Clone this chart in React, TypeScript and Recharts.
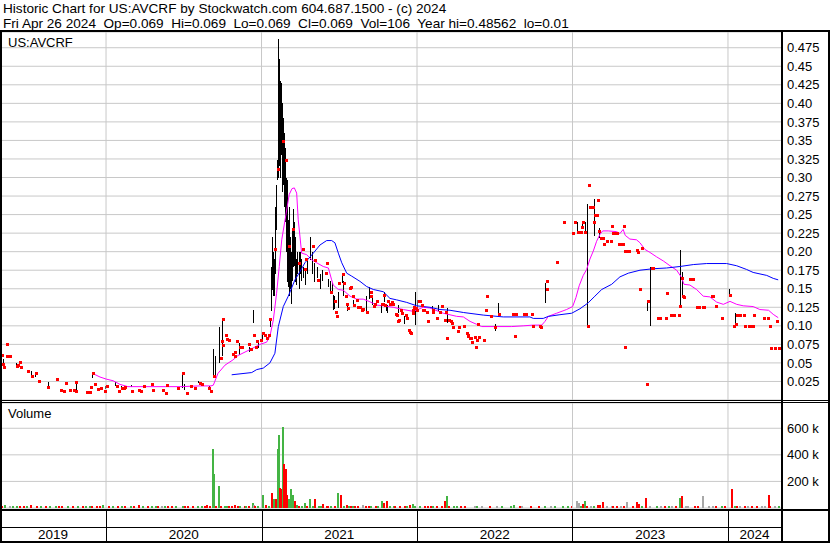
import { ComposedChart, Bar, Line, Scatter, XAxis, YAxis, CartesianGrid, ReferenceLine, Cell } from "recharts";

const FONT = '"Liberation Sans", Arial, sans-serif';
const T0 = 2019.318;
const T1 = 2024.341;

const yearBounds = [2020, 2021, 2022, 2023, 2024];
const yearLabels = ["2019", "2020", "2021", "2022", "2023", "2024"];
const priceTickLabels = [
  "0.025", "0.05", "0.075", "0.10", "0.125", "0.15", "0.175", "0.20", "0.225", "0.25",
  "0.275", "0.30", "0.325", "0.35", "0.375", "0.40", "0.425", "0.45", "0.475",
];
const volTicks = [200, 400, 600];

// [date (decimal year), low, high]
const hlBars: [number, number, number][] = [
  [2019.339, 0.044, 0.055], [2019.359, 0.073, 0.077], [2019.421, 0.044, 0.05], [2019.519, 0.032, 0.039],
  [2019.546, 0.031, 0.037], [2019.625, 0.017, 0.024], [2019.683, 0.026, 0.028], [2019.805, 0.012, 0.025],
  [2019.899, 0.0146, 0.0186], [2019.912, 0.03, 0.038], [2019.993, 0.0146, 0.019], [2020.056, 0.019, 0.0245],
  [2020.096, 0.015, 0.019], [2020.159, 0.017, 0.02], [2020.24, 0.016, 0.02], [2020.386, 0.019, 0.021],
  [2020.49, 0.0164, 0.037], [2020.503, 0.0137, 0.0218], [2020.591, 0.0225, 0.025], [2020.66, 0.015, 0.019],
  [2020.69, 0.03, 0.069], [2020.701, 0.035, 0.06], [2020.726, 0.05, 0.099], [2020.746, 0.06, 0.108],
  [2020.857, 0.061, 0.077], [2020.919, 0.065, 0.072], [2020.947, 0.104, 0.122], [2020.977, 0.07, 0.08],
  [2021.003, 0.08, 0.09], [2021.054, 0.099, 0.108], [2021.061, 0.135, 0.18], [2021.064, 0.12, 0.17],
  [2021.067, 0.149, 0.22], [2021.073, 0.14, 0.2], [2021.08, 0.14, 0.19], [2021.087, 0.17, 0.26],
  [2021.093, 0.229, 0.29], [2021.101, 0.297, 0.324], [2021.104, 0.3, 0.42], [2021.108, 0.31, 0.487],
  [2021.111, 0.33, 0.46], [2021.114, 0.315, 0.45], [2021.117, 0.31, 0.43], [2021.121, 0.3, 0.42],
  [2021.124, 0.33, 0.41], [2021.127, 0.33, 0.427], [2021.13, 0.3, 0.39], [2021.133, 0.28, 0.4],
  [2021.137, 0.29, 0.37], [2021.14, 0.3, 0.38], [2021.143, 0.26, 0.35], [2021.146, 0.27, 0.36],
  [2021.15, 0.24, 0.33], [2021.153, 0.24, 0.34], [2021.157, 0.2, 0.3], [2021.162, 0.225, 0.297],
  [2021.166, 0.16, 0.25], [2021.172, 0.153, 0.243], [2021.176, 0.14, 0.22], [2021.179, 0.14, 0.26],
  [2021.182, 0.15, 0.2], [2021.185, 0.16, 0.22], [2021.188, 0.14, 0.19], [2021.191, 0.13, 0.2],
  [2021.195, 0.16, 0.23], [2021.2, 0.203, 0.257], [2021.204, 0.18, 0.22], [2021.209, 0.18, 0.24],
  [2021.213, 0.16, 0.2], [2021.217, 0.17, 0.22], [2021.222, 0.155, 0.19], [2021.23, 0.17, 0.2],
  [2021.239, 0.15, 0.2], [2021.247, 0.17, 0.2], [2021.256, 0.16, 0.19], [2021.267, 0.165, 0.18],
  [2021.28, 0.155, 0.175], [2021.292, 0.17, 0.19], [2021.312, 0.189, 0.22], [2021.323, 0.17, 0.2],
  [2021.337, 0.16, 0.185], [2021.357, 0.165, 0.18], [2021.376, 0.15, 0.17], [2021.389, 0.16, 0.175],
  [2021.427, 0.152, 0.163], [2021.44, 0.146, 0.16], [2021.451, 0.147, 0.158], [2021.46, 0.122, 0.142],
  [2021.466, 0.122, 0.14], [2021.494, 0.124, 0.146], [2021.516, 0.158, 0.17], [2021.522, 0.14, 0.16],
  [2021.55, 0.12, 0.13], [2021.586, 0.125, 0.135], [2021.672, 0.12, 0.14], [2021.693, 0.137, 0.153],
  [2021.708, 0.128, 0.137], [2021.766, 0.118, 0.127], [2021.786, 0.133, 0.146], [2021.8, 0.12, 0.128],
  [2021.809, 0.117, 0.128], [2021.878, 0.117, 0.128], [2021.916, 0.102, 0.113], [2021.987, 0.102, 0.146],
  [2021.998, 0.12, 0.135], [2022.094, 0.123, 0.127], [2022.137, 0.12, 0.128], [2022.195, 0.104, 0.124],
  [2022.499, 0.093, 0.103], [2022.523, 0.115, 0.131], [2022.825, 0.131, 0.158], [2023.031, 0.226, 0.24],
  [2023.059, 0.23, 0.24], [2023.078, 0.226, 0.24], [2023.091, 0.24, 0.255], [2023.095, 0.1, 0.264],
  [2023.108, 0.258, 0.262], [2023.138, 0.221, 0.271], [2023.168, 0.219, 0.232], [2023.481, 0.12, 0.133],
  [2023.5, 0.1, 0.179], [2023.693, 0.127, 0.202], [2023.706, 0.14, 0.172], [2024.008, 0.142, 0.149],
  [2024.047, 0.102, 0.117],
];

// [date, close]
const closes: [number, number][] = [
  [2019.329, 0.061], [2019.337, 0.049], [2019.344, 0.044], [2019.363, 0.059], [2019.373, 0.059], [2019.382, 0.059],
  [2019.36, 0.076], [2019.425, 0.046], [2019.436, 0.047], [2019.447, 0.051], [2019.451, 0.045], [2019.496, 0.039],
  [2019.524, 0.032], [2019.548, 0.036], [2019.567, 0.025], [2019.627, 0.017], [2019.683, 0.028], [2019.708, 0.0137],
  [2019.728, 0.012], [2019.742, 0.0226], [2019.768, 0.0137], [2019.794, 0.0132], [2019.807, 0.012], [2019.804, 0.024],
  [2019.876, 0.0105], [2019.895, 0.0105], [2019.903, 0.018], [2019.916, 0.037], [2019.927, 0.021], [2019.948, 0.0155],
  [2019.968, 0.0159], [2019.995, 0.0128], [2020.008, 0.019], [2020.069, 0.019], [2020.083, 0.0118], [2020.105, 0.016],
  [2020.115, 0.016], [2020.124, 0.017], [2020.165, 0.0118], [2020.212, 0.0132], [2020.225, 0.0118], [2020.244, 0.019],
  [2020.295, 0.021], [2020.3, 0.0132], [2020.364, 0.0132], [2020.386, 0.0101], [2020.39, 0.02], [2020.461, 0.016],
  [2020.495, 0.036], [2020.521, 0.0091], [2020.544, 0.019], [2020.572, 0.0159], [2020.604, 0.0225], [2020.615, 0.021],
  [2020.664, 0.016], [2020.673, 0.0118], [2020.694, 0.032], [2020.737, 0.057], [2020.746, 0.079], [2020.75, 0.074],
  [2020.754, 0.109], [2020.771, 0.087], [2020.776, 0.082], [2020.793, 0.081], [2020.818, 0.062], [2020.827, 0.065],
  [2020.831, 0.06], [2020.84, 0.079], [2020.861, 0.072], [2020.874, 0.072], [2020.921, 0.075], [2020.93, 0.069],
  [2020.951, 0.088], [2020.964, 0.071], [2020.973, 0.079], [2020.998, 0.081], [2021.011, 0.091], [2021.024, 0.087],
  [2021.033, 0.084], [2021.046, 0.087], [2021.054, 0.109], [2021.088, 0.203], [2021.106, 0.311], [2021.136, 0.349],
  [2021.157, 0.324], [2021.178, 0.207], [2021.2, 0.23], [2021.239, 0.185], [2021.265, 0.203], [2021.278, 0.176],
  [2021.286, 0.19], [2021.333, 0.207], [2021.344, 0.189], [2021.365, 0.162], [2021.415, 0.171], [2021.419, 0.185],
  [2021.447, 0.146], [2021.472, 0.133], [2021.479, 0.119], [2021.487, 0.113], [2021.5, 0.158], [2021.526, 0.17],
  [2021.53, 0.158], [2021.543, 0.14], [2021.551, 0.13], [2021.558, 0.124], [2021.569, 0.151], [2021.575, 0.153],
  [2021.59, 0.14], [2021.595, 0.128], [2021.612, 0.135], [2021.622, 0.125], [2021.633, 0.125], [2021.644, 0.122],
  [2021.654, 0.123], [2021.676, 0.119], [2021.702, 0.145], [2021.706, 0.14], [2021.723, 0.127], [2021.731, 0.129],
  [2021.74, 0.133], [2021.773, 0.129], [2021.783, 0.129], [2021.789, 0.142], [2021.794, 0.128], [2021.815, 0.133],
  [2021.826, 0.129], [2021.837, 0.132], [2021.843, 0.129], [2021.865, 0.116], [2021.869, 0.115], [2021.879, 0.106],
  [2021.884, 0.108], [2021.895, 0.122], [2021.903, 0.117], [2021.929, 0.114], [2021.937, 0.111], [2021.95, 0.095],
  [2021.955, 0.092], [2021.961, 0.09], [2021.972, 0.117], [2021.976, 0.122], [2021.98, 0.126], [2021.993, 0.124],
  [2022.002, 0.122], [2022.011, 0.133], [2022.019, 0.133], [2022.03, 0.128], [2022.036, 0.122], [2022.045, 0.122],
  [2022.062, 0.119], [2022.07, 0.107], [2022.101, 0.121], [2022.105, 0.119], [2022.13, 0.11], [2022.148, 0.119],
  [2022.159, 0.127], [2022.18, 0.108], [2022.186, 0.119], [2022.191, 0.084], [2022.207, 0.108], [2022.216, 0.106],
  [2022.223, 0.104], [2022.233, 0.099], [2022.263, 0.093], [2022.268, 0.099], [2022.302, 0.1], [2022.321, 0.09],
  [2022.326, 0.088], [2022.33, 0.086], [2022.341, 0.083], [2022.345, 0.083], [2022.351, 0.078], [2022.373, 0.085],
  [2022.377, 0.072], [2022.384, 0.081], [2022.392, 0.103], [2022.396, 0.085], [2022.429, 0.081], [2022.443, 0.122],
  [2022.448, 0.14], [2022.478, 0.113], [2022.501, 0.099], [2022.529, 0.116], [2022.615, 0.116], [2022.624, 0.116],
  [2022.63, 0.086], [2022.636, 0.116], [2022.688, 0.116], [2022.701, 0.116], [2022.737, 0.116], [2022.744, 0.1],
  [2022.791, 0.1], [2022.795, 0.099], [2022.834, 0.16], [2022.838, 0.15], [2022.898, 0.186], [2022.945, 0.24],
  [2023.001, 0.225], [2023.016, 0.24], [2023.035, 0.226], [2023.044, 0.227], [2023.052, 0.226], [2023.061, 0.233],
  [2023.069, 0.24], [2023.082, 0.226], [2023.099, 0.1], [2023.106, 0.29], [2023.112, 0.26], [2023.123, 0.26],
  [2023.134, 0.26], [2023.138, 0.24], [2023.144, 0.249], [2023.155, 0.249], [2023.164, 0.27], [2023.172, 0.228],
  [2023.181, 0.219], [2023.189, 0.219], [2023.198, 0.219], [2023.202, 0.21], [2023.224, 0.214], [2023.245, 0.214],
  [2023.254, 0.235], [2023.258, 0.225], [2023.275, 0.225], [2023.288, 0.225], [2023.297, 0.21], [2023.31, 0.21],
  [2023.323, 0.21], [2023.331, 0.235], [2023.335, 0.071], [2023.339, 0.201], [2023.352, 0.201], [2023.361, 0.201],
  [2023.412, 0.202], [2023.421, 0.2], [2023.434, 0.149], [2023.447, 0.205], [2023.477, 0.021], [2023.487, 0.133],
  [2023.509, 0.178], [2023.519, 0.178], [2023.55, 0.11], [2023.562, 0.11], [2023.601, 0.11], [2023.605, 0.144],
  [2023.631, 0.115], [2023.652, 0.115], [2023.683, 0.115], [2023.691, 0.127], [2023.702, 0.165], [2023.712, 0.14],
  [2023.717, 0.139], [2023.755, 0.163], [2023.773, 0.163], [2023.798, 0.125], [2023.815, 0.125], [2023.837, 0.125],
  [2023.845, 0.125], [2023.895, 0.14], [2023.905, 0.14], [2023.923, 0.127], [2023.959, 0.11], [2024.013, 0.142],
  [2024.038, 0.1], [2024.051, 0.103], [2024.056, 0.114], [2024.077, 0.114], [2024.103, 0.114], [2024.107, 0.1],
  [2024.133, 0.1], [2024.146, 0.1], [2024.159, 0.1], [2024.167, 0.114], [2024.231, 0.111], [2024.257, 0.11],
  [2024.268, 0.1], [2024.274, 0.07], [2024.3, 0.07], [2024.317, 0.106], [2024.326, 0.07],
];

// short moving average (magenta)
const maShort: [number, number][] = [
  [2019.912, 0.036], [2019.961, 0.031], [2020.004, 0.028], [2020.045, 0.026], [2020.09, 0.021], [2020.141, 0.018],
  [2020.283, 0.018], [2020.476, 0.018], [2020.604, 0.019], [2020.675, 0.019], [2020.69, 0.02], [2020.72, 0.036],
  [2020.765, 0.047], [2020.816, 0.054], [2020.849, 0.06], [2020.926, 0.068], [2020.99, 0.075], [2021.033, 0.078],
  [2021.054, 0.086], [2021.076, 0.108], [2021.097, 0.144], [2021.114, 0.18], [2021.13, 0.216], [2021.157, 0.25],
  [2021.178, 0.277], [2021.196, 0.285], [2021.211, 0.286], [2021.226, 0.279], [2021.236, 0.243], [2021.247, 0.221],
  [2021.258, 0.198], [2021.29, 0.196], [2021.323, 0.189], [2021.355, 0.185], [2021.397, 0.18], [2021.43, 0.178],
  [2021.451, 0.162], [2021.461, 0.155], [2021.494, 0.149], [2021.526, 0.148], [2021.569, 0.14], [2021.612, 0.136],
  [2021.654, 0.136], [2021.697, 0.1325], [2021.74, 0.128], [2021.783, 0.127], [2021.847, 0.125], [2021.912, 0.122],
  [2021.976, 0.1195], [2022.04, 0.125], [2022.083, 0.124], [2022.169, 0.117], [2022.255, 0.1128], [2022.298, 0.112],
  [2022.341, 0.106], [2022.384, 0.102], [2022.416, 0.099], [2022.512, 0.099], [2022.609, 0.099], [2022.683, 0.1],
  [2022.748, 0.101], [2022.802, 0.101], [2022.823, 0.106], [2022.844, 0.1127], [2022.898, 0.117], [2022.962, 0.122],
  [2023.001, 0.126], [2023.022, 0.138], [2023.043, 0.154], [2023.069, 0.168], [2023.091, 0.176], [2023.112, 0.19],
  [2023.134, 0.201], [2023.155, 0.214], [2023.177, 0.2235], [2023.194, 0.228], [2023.23, 0.228], [2023.284, 0.227],
  [2023.305, 0.2245], [2023.326, 0.23], [2023.339, 0.222], [2023.369, 0.217], [2023.412, 0.216], [2023.434, 0.212],
  [2023.466, 0.203], [2023.498, 0.199], [2023.541, 0.193], [2023.584, 0.1875], [2023.627, 0.181], [2023.67, 0.175],
  [2023.702, 0.165], [2023.717, 0.156], [2023.755, 0.155], [2023.798, 0.149], [2023.841, 0.14], [2023.884, 0.139],
  [2023.927, 0.132], [2023.97, 0.129], [2024.013, 0.133], [2024.056, 0.129], [2024.098, 0.127], [2024.162, 0.126],
  [2024.205, 0.122], [2024.261, 0.121], [2024.291, 0.1155], [2024.323, 0.111],
];

// long moving average (blue)
const maLong: [number, number][] = [
  [2020.808, 0.034], [2020.937, 0.037], [2020.969, 0.041], [2021.011, 0.043], [2021.054, 0.05], [2021.086, 0.063],
  [2021.108, 0.099], [2021.14, 0.126], [2021.172, 0.14], [2021.215, 0.162], [2021.247, 0.173], [2021.279, 0.185],
  [2021.333, 0.198], [2021.376, 0.209], [2021.419, 0.215], [2021.451, 0.215], [2021.472, 0.212], [2021.494, 0.198],
  [2021.516, 0.185], [2021.548, 0.171], [2021.58, 0.167], [2021.633, 0.16], [2021.676, 0.153], [2021.719, 0.149],
  [2021.783, 0.146], [2021.826, 0.137], [2021.869, 0.135], [2021.934, 0.1316], [2021.998, 0.127], [2022.083, 0.125],
  [2022.148, 0.122], [2022.212, 0.121], [2022.298, 0.118], [2022.426, 0.1145], [2022.555, 0.112], [2022.726, 0.112],
  [2022.748, 0.11], [2022.812, 0.11], [2022.844, 0.1127], [2022.919, 0.115], [2022.995, 0.117], [2023.048, 0.123],
  [2023.101, 0.131], [2023.144, 0.14], [2023.188, 0.149], [2023.252, 0.156], [2023.305, 0.166], [2023.359, 0.171],
  [2023.434, 0.175], [2023.519, 0.177], [2023.605, 0.178], [2023.691, 0.18], [2023.777, 0.1826], [2023.863, 0.184],
  [2023.991, 0.184], [2024.056, 0.181], [2024.12, 0.176], [2024.162, 0.172], [2024.249, 0.168], [2024.291, 0.164],
  [2024.323, 0.162],
];

// [date, volume in thousands, g = up / r = down / n = unchanged]
const volumes: [number, number, string][] = [
  [2019.331, 8, "r"], [2019.35, 25, "g"], [2019.382, 6, "n"], [2019.40, 5, "g"], [2019.427, 8, "g"], [2019.447, 10, "r"],
  [2019.47, 5, "r"], [2019.492, 8, "g"], [2019.515, 25, "r"], [2019.556, 6, "r"], [2019.58, 5, "g"], [2019.614, 6, "r"],
  [2019.64, 6, "g"], [2019.678, 15, "g"], [2019.70, 5, "r"], [2019.717, 8, "r"], [2019.755, 8, "g"], [2019.786, 10, "r"],
  [2019.82, 6, "g"], [2019.85, 5, "r"], [2019.871, 12, "g"], [2019.897, 15, "g"], [2019.91, 12, "r"], [2019.942, 6, "r"],
  [2019.96, 6, "r"], [2019.98, 20, "g"], [2020.02, 6, "r"], [2020.045, 15, "g"], [2020.077, 10, "r"], [2020.10, 5, "g"],
  [2020.122, 8, "r"], [2020.16, 10, "g"], [2020.18, 6, "r"], [2020.212, 25, "r"], [2020.238, 10, "g"], [2020.27, 5, "r"],
  [2020.295, 10, "g"], [2020.32, 6, "g"], [2020.334, 6, "r"], [2020.36, 10, "n"], [2020.377, 15, "g"], [2020.40, 5, "r"],
  [2020.424, 6, "r"], [2020.45, 6, "g"], [2020.493, 10, "g"], [2020.508, 8, "r"], [2020.53, 5, "r"], [2020.559, 6, "r"],
  [2020.591, 10, "g"], [2020.62, 6, "g"], [2020.635, 8, "r"], [2020.651, 20, "r"], [2020.668, 12, "r"],
  [2020.686, 446, "g"], [2020.692, 254, "g"], [2020.707, 12, "r"], [2020.724, 169, "g"], [2020.739, 10, "r"],
  [2020.765, 8, "g"], [2020.78, 6, "g"], [2020.791, 12, "r"], [2020.81, 8, "r"], [2020.827, 23, "r"], [2020.85, 6, "r"],
  [2020.861, 15, "g"], [2020.894, 8, "r"], [2020.90, 6, "g"], [2020.919, 10, "r"], [2020.943, 36, "g"], [2020.951, 20, "n"],
  [2020.96, 8, "r"], [2020.977, 12, "g"], [2021.011, 100, "g"], [2021.029, 20, "r"], [2021.046, 15, "g"],
  [2021.065, 115, "r"], [2021.08, 69, "g"], [2021.093, 69, "r"], [2021.104, 446, "g"], [2021.11, 551, "g"],
  [2021.119, 151, "r"], [2021.125, 141, "r"], [2021.138, 613, "g"], [2021.143, 331, "r"], [2021.155, 295, "r"],
  [2021.166, 95, "r"], [2021.175, 69, "g"], [2021.187, 146, "g"], [2021.196, 69, "g"], [2021.204, 100, "g"],
  [2021.217, 49, "r"], [2021.228, 20, "g"], [2021.243, 15, "r"], [2021.26, 12, "g"], [2021.277, 41, "g"],
  [2021.292, 15, "r"], [2021.312, 67, "g"], [2021.331, 12, "g"], [2021.346, 64, "r"], [2021.369, 10, "g"],
  [2021.38, 8, "g"], [2021.393, 33, "r"], [2021.421, 12, "r"], [2021.43, 6, "r"], [2021.447, 10, "g"], [2021.472, 8, "r"],
  [2021.492, 115, "g"], [2021.509, 100, "r"], [2021.53, 10, "g"], [2021.548, 23, "r"], [2021.56, 6, "g"],
  [2021.575, 10, "r"], [2021.59, 12, "g"], [2021.60, 6, "r"], [2021.62, 8, "r"], [2021.65, 23, "n"], [2021.672, 10, "r"],
  [2021.69, 6, "r"], [2021.706, 12, "g"], [2021.736, 8, "r"], [2021.75, 6, "g"], [2021.775, 54, "g"], [2021.788, 41, "r"],
  [2021.805, 54, "r"], [2021.826, 15, "g"], [2021.85, 6, "g"], [2021.86, 12, "r"], [2021.89, 8, "r"], [2021.92, 12, "r"],
  [2021.934, 15, "g"], [2021.955, 20, "r"], [2021.972, 33, "g"], [2021.989, 10, "g"], [2022.02, 8, "g"],
  [2022.053, 15, "r"], [2022.07, 8, "r"], [2022.09, 6, "r"], [2022.103, 8, "g"], [2022.128, 10, "r"], [2022.16, 6, "r"],
  [2022.178, 54, "r"], [2022.191, 92, "g"], [2022.205, 8, "r"], [2022.24, 6, "g"], [2022.257, 8, "g"], [2022.28, 5, "r"],
  [2022.31, 12, "r"], [2022.373, 8, "n"], [2022.386, 10, "g"], [2022.42, 5, "n"], [2022.469, 12, "r"], [2022.514, 8, "n"],
  [2022.55, 5, "g"], [2022.604, 8, "g"], [2022.624, 20, "g"], [2022.66, 5, "r"], [2022.675, 8, "n"], [2022.735, 8, "r"],
  [2022.785, 8, "r"], [2022.825, 10, "g"], [2022.86, 5, "n"], [2022.887, 8, "g"], [2022.937, 18, "g"], [2022.97, 5, "g"],
  [2022.995, 8, "r"], [2023.031, 54, "n"], [2023.044, 38, "n"], [2023.056, 15, "g"], [2023.069, 33, "r"],
  [2023.082, 54, "g"], [2023.093, 15, "r"], [2023.119, 8, "n"], [2023.138, 10, "g"], [2023.164, 20, "r"],
  [2023.177, 26, "r"], [2023.194, 46, "r"], [2023.222, 8, "n"], [2023.254, 8, "n"], [2023.26, 6, "r"], [2023.284, 12, "r"],
  [2023.312, 8, "n"], [2023.33, 6, "r"], [2023.352, 46, "n"], [2023.389, 8, "r"], [2023.412, 46, "r"], [2023.426, 31, "r"],
  [2023.447, 8, "g"], [2023.472, 77, "r"], [2023.498, 8, "n"], [2023.543, 8, "g"], [2023.57, 5, "n"], [2023.595, 8, "r"],
  [2023.62, 6, "g"], [2023.64, 8, "n"], [2023.665, 8, "r"], [2023.691, 77, "g"], [2023.704, 92, "r"], [2023.73, 6, "n"],
  [2023.743, 8, "n"], [2023.788, 8, "r"], [2023.81, 5, "r"], [2023.837, 92, "n"], [2023.878, 8, "n"], [2023.902, 15, "n"],
  [2023.923, 8, "r"], [2023.961, 8, "g"], [2023.98, 6, "r"], [2024.025, 146, "r"], [2024.045, 8, "g"], [2024.06, 6, "r"],
  [2024.077, 8, "n"], [2024.109, 8, "r"], [2024.13, 6, "n"], [2024.154, 8, "r"], [2024.19, 6, "r"], [2024.218, 8, "n"],
  [2024.24, 6, "n"], [2024.261, 100, "r"], [2024.27, 12, "r"], [2024.302, 8, "n"], [2024.328, 8, "g"],
];

const priceTicks = priceTickLabels.map(Number);
const yearCenters = yearLabels.map((s) => {
  const y = Number(s);
  return (Math.max(T0, y) + Math.min(T1, y + 1)) / 2;
});

const hlData = hlBars.map(([t, lo, hi]) => ({ t, range: [lo, hi] }));
const closeData = closes.map(([t, c]) => ({ t, c }));
const shortData = maShort.map(([t, v]) => ({ t, v }));
const longData = maLong.map(([t, v]) => ({ t, v }));
const volData = volumes.map(([t, v, c]) => ({ t, v, c }));

const volColor: Record<string, string> = { g: "#44b444", r: "#ff0000", n: "#a8a8a8" };

const HLShape = (p: any) => {
  const x = Math.round(p.x + p.width / 2);
  const top = Math.min(p.y, p.y + p.height);
  const h = Math.max(1, Math.abs(p.height));
  return <rect x={x} y={Math.round(top)} width={1} height={Math.round(h)} fill="#000" />;
};

const VolShape = (p: any) => {
  const x = Math.round(p.x + p.width / 2) - 1;
  const bottom = Math.round(p.y + p.height);
  const h = Math.max(2, Math.round(p.height));
  return <rect x={x} y={bottom - h} width={2} height={h} fill={p.fill} />;
};

const RedDot = (p: any) => (
  <rect x={Math.round(p.cx) - 1} y={Math.round(p.cy) - 1} width={3} height={3} fill="#ff0000" />
);

const YearTick = (p: any) => {
  const v = p.payload.value;
  const x = Math.round(p.x) + 0.5;
  if (yearBounds.some((b) => Math.abs(b - v) < 1e-6)) {
    return <line x1={x} x2={x} y1={p.y + 3} y2={p.y + 33} stroke="#000" />;
  }
  let idx = 0;
  yearCenters.forEach((c, i) => {
    if (Math.abs(c - v) < Math.abs(yearCenters[idx] - v)) idx = i;
  });
  return (
    <text x={p.x} y={p.y + 31} textAnchor="middle" fontSize={13.5} fontFamily={FONT} fill="#000">
      {yearLabels[idx]}
    </text>
  );
};

const axisTick = { fontSize: 13, fill: "#000", fontFamily: FONT };

function HLine({ top, left = 0, width = 830, h = 2 }: { top: number; left?: number; width?: number; h?: number }) {
  return <div style={{ position: "absolute", top, left, width, height: h, background: "#000" }} />;
}
function VLine({ left, top = 30, height = 513, w = 2 }: { left: number; top?: number; height?: number; w?: number }) {
  return <div style={{ position: "absolute", top, left, width: w, height, background: "#000" }} />;
}

const headStyle = { position: "absolute" as const, left: 3, fontSize: 13.6, lineHeight: "15px", whiteSpace: "pre" as const, color: "#000" };

export default function App() {
  return (
    <div style={{ position: "fixed", left: 0, top: 0, width: 830, height: 543, background: "#fff", overflow: "hidden", fontFamily: FONT }}>
      <div style={{ ...headStyle, top: 1 }}>
        {"Historic Chart for US:AVCRF by Stockwatch.com 604.687.1500 - (c) 2024"}
      </div>
      <div style={{ ...headStyle, top: 16 }}>
        {"Fri Apr 26 2024  Op=0.069  Hi=0.069  Lo=0.069  Cl=0.069  Vol=106  Year hi=0.48562  lo=0.01"}
      </div>

      <div style={{ position: "absolute", left: 0, top: 32 }}>
        <ComposedChart width={830} height={368} data={hlData} margin={{ top: 0, right: 0, bottom: 0, left: 0 }}>
          <CartesianGrid vertical={false} stroke="#c8c8c8" />
          <XAxis type="number" dataKey="t" domain={[T0, T1]} allowDataOverflow hide />
          <YAxis
            orientation="right"
            type="number"
            domain={[0, 0.4962]}
            allowDataOverflow
            ticks={priceTicks}
            interval={0}
            width={49}
            axisLine={false}
            tickLine={false}
            tickSize={0}
            tickMargin={6}
            tick={axisTick}
            tickFormatter={(v: number) => priceTickLabels[priceTicks.indexOf(v)] ?? String(v)}
          />
          {yearBounds.map((y) => (
            <ReferenceLine key={y} x={y} stroke="#c8c8c8" />
          ))}
          <Bar dataKey="range" barSize={1} shape={HLShape} isAnimationActive={false} />
          <Line data={shortData} dataKey="v" type="linear" stroke="#ff00ff" strokeWidth={1} dot={false} isAnimationActive={false} />
          <Line data={longData} dataKey="v" type="linear" stroke="#0000ff" strokeWidth={1} dot={false} isAnimationActive={false} />
          <Scatter data={closeData} dataKey="c" shape={RedDot} isAnimationActive={false} />
        </ComposedChart>
        <div style={{ position: "absolute", left: 8, top: 3, fontSize: 13, color: "#000" }}>US:AVCRF</div>
      </div>

      <div style={{ position: "absolute", left: 0, top: 403 }}>
        <ComposedChart width={830} height={138} data={volData} margin={{ top: 0, right: 0, bottom: 0, left: 0 }}>
          <CartesianGrid vertical={false} stroke="#c8c8c8" />
          <XAxis
            type="number"
            dataKey="t"
            domain={[T0, T1]}
            allowDataOverflow
            ticks={[...yearBounds, ...yearCenters]}
            interval={0}
            height={33}
            axisLine={false}
            tickLine={false}
            tickSize={0}
            tickMargin={0}
            tick={YearTick}
          />
          <YAxis
            orientation="right"
            type="number"
            domain={[0, 790]}
            allowDataOverflow
            ticks={volTicks}
            interval={0}
            width={49}
            axisLine={false}
            tickLine={false}
            tickSize={0}
            tickMargin={6}
            tick={axisTick}
            tickFormatter={(v: number) => `${v} k`}
          />
          {yearBounds.map((y) => (
            <ReferenceLine key={y} x={y} stroke="#c8c8c8" />
          ))}
          <Bar dataKey="v" barSize={2} shape={VolShape} isAnimationActive={false}>
            {volData.map((d, i) => (
              <Cell key={i} fill={volColor[d.c]} />
            ))}
          </Bar>
        </ComposedChart>
        <div style={{ position: "absolute", left: 8, top: 3, fontSize: 13, color: "#000" }}>Volume</div>
      </div>

      <HLine top={30} />
      <HLine top={400} h={1} />
      <HLine top={402} h={1} />
      <HLine top={509} />
      <HLine top={527} width={781} h={1} />
      <HLine top={541} />
      <VLine left={0} />
      <VLine left={781} />
      <VLine left={828} />
    </div>
  );
}
